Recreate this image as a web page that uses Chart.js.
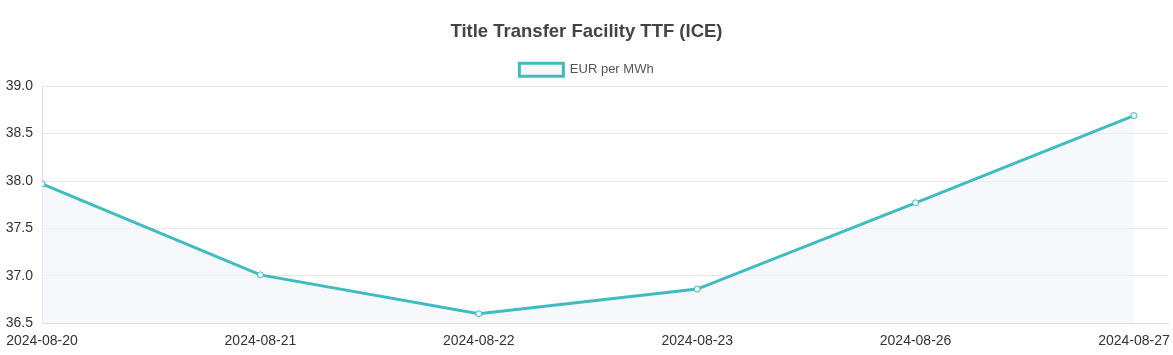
<!DOCTYPE html>
<html><head><meta charset="utf-8">
<script src="https://cdn.jsdelivr.net/npm/chart.js@4/dist/chart.umd.min.js"></script>
<style>html,body{margin:0;padding:0;background:#fff;}#wrap{width:1173px;height:355px;}</style>
</head><body><div id="wrap"><canvas id="c" width="1173" height="355"></canvas></div>
<script>
const categories = ["2024-08-20","2024-08-21","2024-08-22","2024-08-23","2024-08-26","2024-08-27"];
const seriesName = "EUR per MWh";
const values = [37.97, 37.01, 36.60, 36.86, 37.77, 38.69];
const yTicks = [36.5, 37.0, 37.5, 38.0, 38.5, 39.0];
const chartTitle = "Title Transfer Facility TTF (ICE)";

const teal = "rgb(62,188,192)";
const xMax = (categories.length - 1) * (1167 - 42) / (1133 - 42);
Chart.defaults.font.family = "'Liberation Sans', Arial, sans-serif";
Chart.defaults.color = "#333";
new Chart(document.getElementById('c'), {
  type: 'line',
  data: {
    datasets: [{
      label: seriesName,
      data: values.map((v, i) => ({x: i, y: v})),
      borderColor: teal,
      backgroundColor: 'rgba(240,243,250,0.55)',
      borderWidth: 3,
      fill: 'start',
      tension: 0,
      pointRadius: 3,
      pointBorderWidth: 1,
      pointBackgroundColor: 'rgba(240,246,250,1)',
      pointBorderColor: teal
    }]
  },
  options: {
    responsive: false,
    animation: false,
    layout: {padding: 0},
    plugins: {
      title: {display: true, text: chartTitle, color: '#444', font: {size: 18.5, weight: 'bold'}, padding: {top: 21, bottom: 9}},
      legend: {labels: {boxWidth: 44, boxHeight: 13, color: '#555', font: {size: 13}, padding: 11}},
      tooltip: {enabled: false}
    },
    scales: {
      x: {
        type: 'linear',
        min: 0,
        max: xMax,
        grid: {display: false, drawTicks: true, tickLength: 5},
        border: {color: '#ddd', width: 1},
        afterBuildTicks: (s) => { s.ticks = categories.map((c, i) => ({value: i})).concat([{value: xMax}]); },
        afterFit: (s) => { s.paddingLeft = 0; s.paddingRight = 0; },
        ticks: {autoSkip: false, maxRotation: 0, color: '#333', font: {size: 14}, padding: 5,
          callback: (v) => categories[v] !== undefined ? categories[v] : ''}
      },
      y: {
        min: yTicks[0], max: yTicks[yTicks.length - 1],
        afterBuildTicks: (s) => { s.ticks = yTicks.map(v => ({value: v})); },
        afterFit: (s) => { s.width = 42; },
        grid: {color: '#e6e6e6', drawTicks: false},
        border: {color: '#e0e0e0'},
        ticks: {color: '#333', font: {size: 14}, padding: 9, callback: (v) => Number(v).toFixed(1)}
      }
    }
  }
});
</script></body></html>
